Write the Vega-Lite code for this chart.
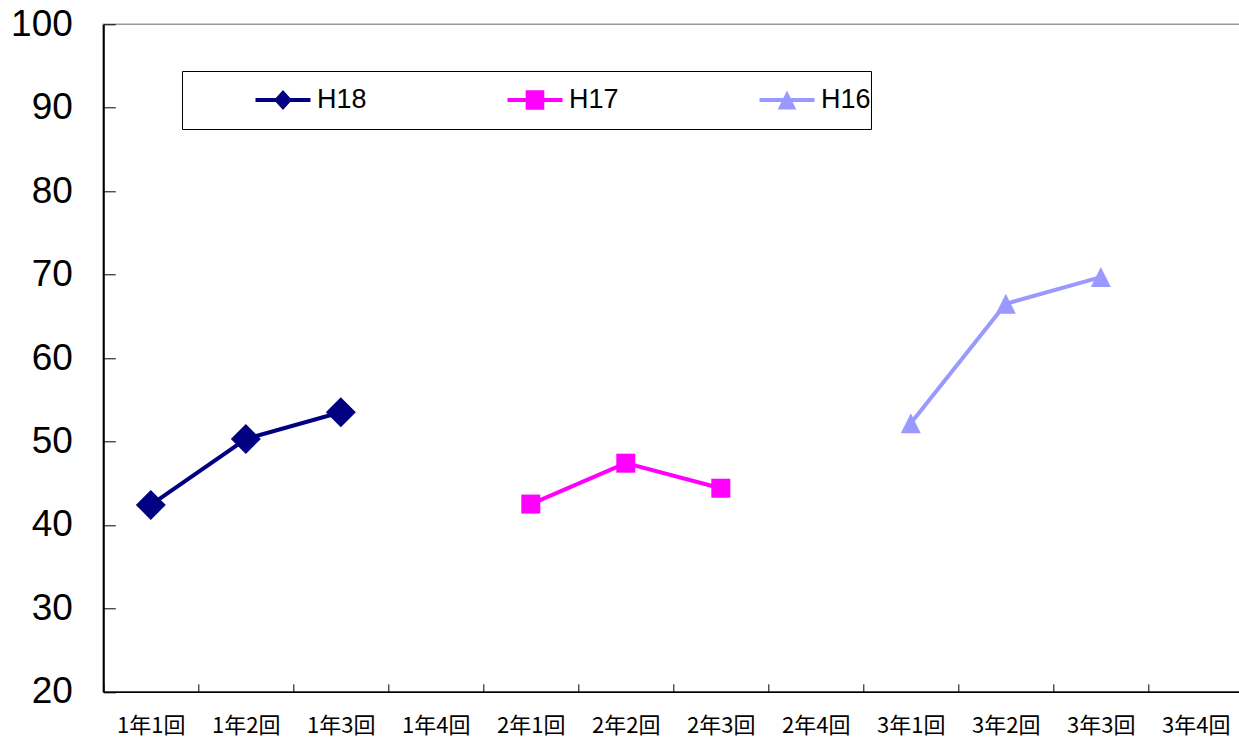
{
  "$schema": "https://vega.github.io/schema/vega-lite/v6.json",
  "width": 1140,
  "height": 667.5,
  "autosize": {"type": "none"},
  "padding": {"left": 103.3, "top": 24.3, "right": 0, "bottom": 48.2},
  "background": "white",
  "config": {
    "view": {"stroke": "#999999", "strokeWidth": 1.5},
    "font": "Liberation Sans"
  },
  "data": {
    "values": [
      {"period": "1年1回", "series": "H18", "value": 42.4},
      {"period": "1年2回", "series": "H18", "value": 50.3},
      {"period": "1年3回", "series": "H18", "value": 53.5},
      {"period": "2年1回", "series": "H17", "value": 42.5},
      {"period": "2年2回", "series": "H17", "value": 47.4},
      {"period": "2年3回", "series": "H17", "value": 44.4},
      {"period": "3年1回", "series": "H16", "value": 52.2},
      {"period": "3年2回", "series": "H16", "value": 66.5},
      {"period": "3年3回", "series": "H16", "value": 69.7}
    ]
  },
  "encoding": {
    "x": {
      "field": "period",
      "type": "nominal",
      "bandPosition": 0.5,
      "scale": {
        "type": "band",
        "domain": ["1年1回", "1年2回", "1年3回", "1年4回", "2年1回", "2年2回", "2年3回", "2年4回", "3年1回", "3年2回", "3年3回", "3年4回"],
        "paddingInner": 0,
        "paddingOuter": 0
      },
      "axis": {
        "title": null,
        "tickBand": "extent",
        "tickSize": -8,
        "tickColor": "#000000",
        "tickWidth": 1,
        "domainColor": "#000000",
        "domainWidth": 1.5,
        "labelAngle": 0,
        "labelFont": "Noto Sans CJK JP",
        "labelFontSize": 22,
        "labelColor": "#000000",
        "labelPadding": 32,
        "labelOverlap": false,
        "grid": false
      }
    },
    "y": {
      "field": "value",
      "type": "quantitative",
      "scale": {"domain": [20, 100], "nice": false, "zero": false},
      "axis": {
        "title": null,
        "values": [20, 30, 40, 50, 60, 70, 80, 90, 100],
        "tickSize": -12,
        "tickColor": "#000000",
        "tickWidth": 1,
        "domainColor": "#000000",
        "domainWidth": 2,
        "labelFont": "Liberation Sans",
        "labelFontSize": 37,
        "labelColor": "#000000",
        "labelPadding": 43,
        "labelOverlap": false,
        "labelFlush": false,
        "grid": false
      }
    },
    "color": {
      "field": "series",
      "type": "nominal",
      "scale": {"domain": ["H18", "H17", "H16"], "range": ["#000080", "#FF00FF", "#9999FF"]},
      "legend": {
        "title": null,
        "orient": "none",
        "legendX": 78.7,
        "legendY": 46.7,
        "direction": "horizontal",
        "columns": 3,
        "columnPadding": 67,
        "rowPadding": 0,
        "padding": 0,
        "clipHeight": 58,
        "strokeColor": "#000000",
        "fillColor": "#ffffff",
        "symbolSize": 400,
        "symbolOffset": 87.5,
        "labelOffset": 20.5,
        "labelFont": "Liberation Sans",
        "labelFontSize": 27,
        "labelColor": "#000000",
        "labelBaseline": "middle",
        "encoding": {
          "symbols": {
            "shape": {"value": {"expr": "datum.value === 'H18' ? 'M0,-2.9M15.05,2.9M-2.75,-0.2H2.75V0.2H-2.75ZM0,-1L0.9,0L0,1L-0.9,0Z' : datum.value === 'H17' ? 'M0,-2.9M15.05,2.9M-2.75,-0.2H2.75V0.2H-2.75ZM-0.93,-0.97H0.93V0.97H-0.93Z' : 'M0,-2.9M15.05,2.9M-2.75,-0.2H2.75V0.2H-2.75ZM0,-0.95L0.93,0.95L-0.93,0.95Z'"}},
            "fill": {"value": {"expr": "scale('color', datum.value)"}},
            "stroke": {"value": "transparent"},
            "strokeWidth": {"value": 0},
            "opacity": {"value": 1},
            "size": {"value": 400}
          }
        }
      }
    }
  },
  "layer": [
    {"mark": {"type": "line", "strokeWidth": 4}},
    {
      "transform": [{"filter": "datum.series === 'H18'"}],
      "mark": {"type": "point", "filled": true, "opacity": 1, "shape": "diamond", "size": 900}
    },
    {
      "transform": [{"filter": "datum.series === 'H17'"}],
      "mark": {"type": "point", "filled": true, "opacity": 1, "shape": "square", "size": 361}
    },
    {
      "transform": [{"filter": "datum.series === 'H16'"}],
      "mark": {"type": "point", "filled": true, "opacity": 1, "shape": "M0,-1L1,1L-1,1Z", "size": 400}
    }
  ]
}
